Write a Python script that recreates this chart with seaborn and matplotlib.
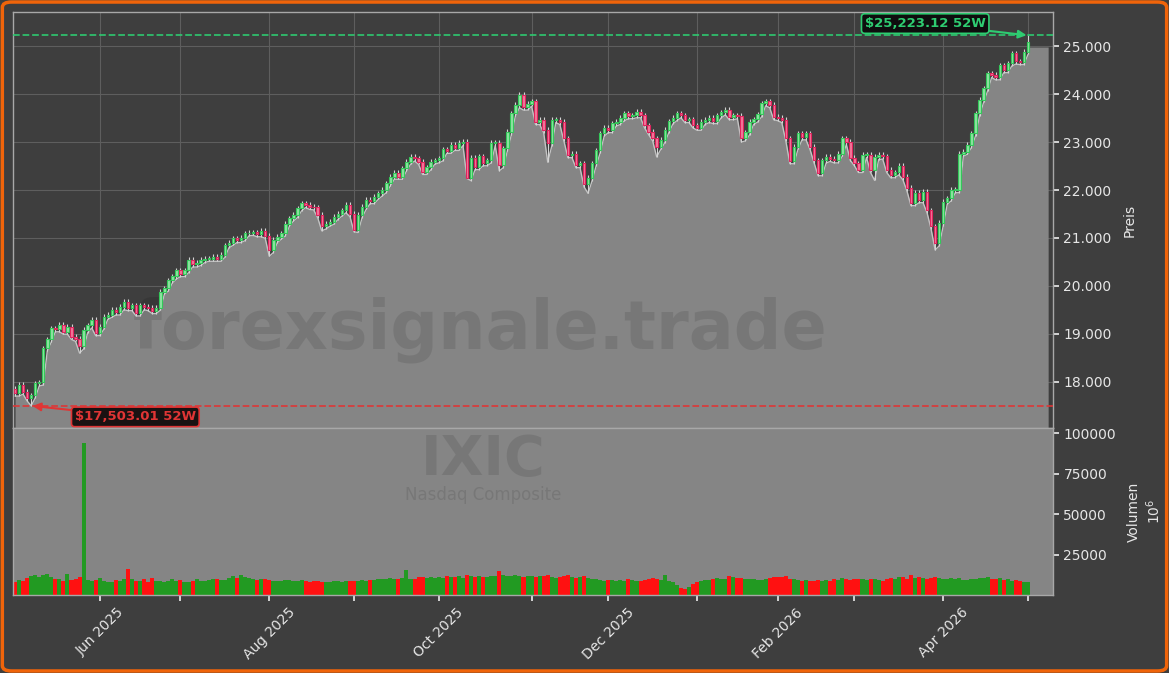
import numpy as np
import pandas as pd
import seaborn as sns
import matplotlib.pyplot as plt
from matplotlib.patches import FancyBboxPatch
from matplotlib.ticker import FuncFormatter, FixedLocator

# --- Data: IXIC daily closes ---
close_may25 = [17760, 17940, 17800, 17660, 17720, 17970, 17990, 18700, 18890, 19120, 19100,
               19190, 19050, 19150, 18940, 18900, 18740, 19080, 19180, 19290, 19020]
close_jun25 = [19150, 19360, 19400, 19500, 19450, 19560, 19670, 19540, 19600, 19430,
               19600, 19560, 19540, 19480, 19550, 19880, 19950, 20120, 20200, 20330]
close_jul25 = [20250, 20330, 20540, 20450, 20480, 20540, 20570, 20570, 20610, 20570, 20650,
               20850, 20900, 20990, 20960, 21000, 21100, 21110, 21120, 21080, 21150, 21050]
close_aug25 = [20750, 20960, 21030, 21100, 21300, 21410, 21480, 21620, 21720, 21690, 21650,
               21640, 21480, 21240, 21300, 21340, 21440, 21510, 21580, 21690, 21500]
close_sep25 = [21170, 21480, 21650, 21800, 21770, 21860, 21930, 22000, 22140, 22280, 22360,
               22280, 22450, 22590, 22690, 22660, 22590, 22380, 22470, 22590, 22620]
close_oct25 = [22660, 22850, 22820, 22940, 22880, 22980, 23010, 22250, 22670, 22480, 22700, 22560,
               22620, 22980, 22990, 22520, 22870, 23210, 23600, 23770, 23980, 23720, 23800]
close_nov25 = [23850, 23420, 23460, 23250, 22970, 23460, 23460, 23420, 23080, 22730,
               22760, 22520, 22560, 22120, 22250, 22560, 22830, 23180, 23290]
close_dec25 = [23250, 23390, 23420, 23500, 23600, 23540, 23560, 23630, 23560, 23350, 23210,
               23080, 22900, 23040, 23250, 23430, 23500, 23600, 23560, 23460, 23470, 23350]
close_jan26 = [23300, 23420, 23460, 23500, 23440, 23560, 23620, 23670, 23520, 23560,
               23540, 23080, 23200, 23420, 23470, 23580, 23810, 23850, 23770, 23520]
close_feb26 = [23500, 23460, 23080, 22600, 22900, 23180, 23100, 23180, 22900, 22620,
               22350, 22620, 22690, 22650, 22620, 22760, 23080, 23000, 22670]
close_mar26 = [22560, 22420, 22730, 22730, 22420, 22690, 22730, 22700, 22420, 22310, 22370,
               22500, 22270, 22040, 21730, 21940, 21790, 21960, 21580, 21240, 20890, 21310]
close_apr26 = [21760, 21830, 22000, 22000, 22760, 22800, 22940, 23180, 23600, 23880, 24120,
               24430, 24400, 24350, 24600, 24500, 24640, 24850, 24680, 24670, 24880]
close_may26 = [25090]
first_open = 17850

# volume in 10^6
vol_may25 = [8200, 9100, 8800, 10500, 11800, 12600, 10900, 12300, 13200, 11000, 10200,
             9600, 8900, 12800, 9400, 9800, 11200, 94000, 9200, 8400, 9000]
vol_jun25 = [10400, 8600, 8200, 7900, 9300, 8800, 10100, 16200, 9800, 8400,
             8700, 9600, 8200, 10800, 8900, 8400, 7800, 8600, 9900, 8800]
vol_jul25 = [9400, 8200, 7900, 8800, 9600, 8700, 8400, 9100, 10200, 9800, 9000,
             9500, 10800, 11600, 10400, 12200, 11300, 10600, 9800, 9400, 10100, 9700]
vol_aug25 = [9200, 8700, 8400, 8900, 9100, 9300, 8600, 8800, 9000, 8700, 8200,
             8500, 8900, 8100, 7800, 8300, 8600, 8800, 8200, 8700, 8400]
vol_sep25 = [8600, 8900, 9100, 8800, 9400, 9200, 9600, 9800, 10100, 10300, 9700,
             9900, 10400, 15200, 9600, 10200, 10900, 11200, 10600, 11400, 10800]
vol_oct25 = [11200, 10800, 11600, 10900, 11300, 11800, 10600, 12400, 11900, 11200, 11600, 10900,
             11400, 11500, 11800, 14600, 12100, 11600, 11900, 12200, 11700, 11400, 12000]
vol_nov25 = [11800, 11400, 11900, 11600, 12100, 11300, 10800, 11200, 11600, 12300,
             11000, 10400, 10900, 11700, 10800, 10200, 9800, 9300, 8900]
vol_dec25 = [9400, 9100, 8700, 9300, 8800, 9600, 9000, 8500, 8900, 9200, 9800,
             10400, 9700, 9100, 12600, 8800, 7900, 6200, 4300, 3800, 5200, 6900]
vol_jan26 = [7800, 8900, 9200, 9400, 9800, 10600, 9900, 9600, 11800, 11200,
             10400, 10800, 9600, 9900, 10200, 9400, 9100, 9800, 10600, 11200]
vol_feb26 = [11400, 10900, 11800, 10200, 9600, 9200, 8800, 9400, 8600, 8900,
             9300, 8700, 9100, 8400, 9800, 9200, 10600, 10200, 9400]
vol_mar26 = [9800, 9600, 10200, 9400, 9700, 10100, 9300, 8900, 9600, 10400, 9800,
             10900, 11400, 10200, 12300, 10800, 11200, 10600, 9800, 10400, 11100, 10700]
vol_apr26 = [10200, 9600, 10800, 9800, 10600, 9400, 9200, 10100, 9800, 10300, 10600,
             10900, 10200, 9700, 10400, 9100, 9600, 8900, 9300, 8600, 8200]
vol_may26 = [7900]

# wick extremes (trading-day index -> price)
low_marks = {4: 17503.01, 16: 18600, 63: 20620, 76: 21150, 84: 21130, 112: 22240,
             120: 22400, 132: 22580, 142: 21930, 159: 22690, 180: 23000, 192: 22550,
             199: 22300, 213: 22200, 228: 20750}
high_marks = {251: 25223.12}
hi_52w = 25223.12
lo_52w = 17503.01

nyse_holidays = ['2025-05-26', '2025-06-19', '2025-07-04', '2025-09-01', '2025-11-27',
                 '2025-12-25', '2026-01-01', '2026-01-19', '2026-02-16', '2026-04-03']

closes = (close_may25 + close_jun25 + close_jul25 + close_aug25 + close_sep25 + close_oct25 +
          close_nov25 + close_dec25 + close_jan26 + close_feb26 + close_mar26 + close_apr26 + close_may26)
volumes = (vol_may25 + vol_jun25 + vol_jul25 + vol_aug25 + vol_sep25 + vol_oct25 + vol_nov25 +
           vol_dec25 + vol_jan26 + vol_feb26 + vol_mar26 + vol_apr26 + vol_may26)

dates = pd.bdate_range('2025-05-01', '2026-05-01', freq='C', holidays=nyse_holidays)
n = min(len(dates), len(closes), len(volumes))

df = pd.DataFrame({'date': dates[:n], 'close': closes[:n], 'volume': volumes[:n]})
df['idx'] = np.arange(n)
df['open'] = df['close'].shift(1).fillna(first_open)
wick = 55
df['high'] = df[['open', 'close']].max(axis=1) + wick
df['low'] = df[['open', 'close']].min(axis=1) - wick
for k, v in low_marks.items():
    df.loc[k, 'low'] = v
for k, v in high_marks.items():
    df.loc[k, 'high'] = v
df['up'] = df['close'] >= df['open']

# --- Style ---
sns.set_theme(style='dark')
bg = '#3e3e3e'
txt = '#e6e6e6'
fill_gray = '#858585'
plt.rcParams['font.family'] = ['DejaVu Sans']

fig = plt.figure(figsize=(11.69, 6.73), dpi=100, facecolor=bg)
W, H = 1169, 673
ax = fig.add_axes([13 / W, 1 - 428 / H, 1040 / W, 416 / H])
axv = fig.add_axes([13 / W, 1 - 595 / H, 1040 / W, 167 / H], sharex=ax)

# --- Price panel ---
ax.set_facecolor(bg)
ymin, ymax = 17040, 25710
last_i = df['idx'].iloc[-1]
tail = df['close'].iloc[-1] - 2 * wick
x_fill = list(df['idx']) + [last_i + 0.3, last_i + 5]
y_fill = list(df['low']) + [tail, tail]
ax.fill_between(x_fill, y_fill, ymin, color=fill_gray, lw=0, zorder=1)
sns.lineplot(data=df, x='idx', y='low', color='#c4c4c4', lw=1.0, ax=ax, zorder=2)

ax.vlines(df['idx'], df['low'], df['high'], color='#d4d4d4', lw=0.8, zorder=3)
body_bottom = df[['open', 'close']].min(axis=1)
body_h = (df['close'] - df['open']).abs().clip(lower=12)
face = np.where(df['up'], '#8fe3a2', '#f2789b')
edge = np.where(df['up'], '#34c85a', '#e0245e')
ax.bar(df['idx'], body_h, bottom=body_bottom, width=0.6, color=face, edgecolor=edge,
       linewidth=0.8, zorder=4)

ax.axhline(hi_52w, color='#2ecc71', ls='--', lw=1.3, alpha=0.9, zorder=5)
ax.axhline(lo_52w, color='#e03535', ls='--', lw=1.3, alpha=0.9, zorder=5)

hi_i = int(df['high'].idxmax())
lo_i = int(df['low'].idxmin())
ax.annotate(f'${hi_52w:,.2f} 52W', xy=(hi_i, hi_52w), xytext=(-74, 8.5), textcoords='offset points',
            ha='center', va='center', color='#2ecc71', fontsize=9.5, fontweight='bold',
            bbox=dict(boxstyle='round,pad=0.25', fc='#0e0e0e', ec='#2ecc71', lw=1.2),
            arrowprops=dict(arrowstyle='-|>', color='#2ecc71', lw=1.5, mutation_scale=12,
                            shrinkA=0, shrinkB=1), zorder=6)
ax.annotate(f'${lo_52w:,.2f} 52W', xy=(lo_i, lo_52w), xytext=(75, -8), textcoords='offset points',
            ha='center', va='center', color='#e03535', fontsize=9.5, fontweight='bold',
            bbox=dict(boxstyle='round,pad=0.25', fc='#1a1212', ec='#e03535', lw=1.2),
            arrowprops=dict(arrowstyle='-|>', color='#e03535', lw=1.5, mutation_scale=12,
                            shrinkA=0, shrinkB=1), zorder=6)

ax.text(0.449, 0.236, 'forexsignale.trade', transform=ax.transAxes, ha='center', va='center',
        fontsize=48, fontweight='bold', color='black', alpha=0.1, zorder=1.5)

ax.set_ylim(ymin, ymax)
ax.set_xlim(-0.5, n - 1 + 6.2)
ax.yaxis.tick_right()
ax.yaxis.set_label_position('right')
ax.yaxis.set_major_formatter(FuncFormatter(lambda v, p: f'{v:,.0f}'.replace(',', '.')))
ax.set_yticks(np.arange(18000, 25001, 1000))
ax.set_ylabel('Preis', color=txt, fontsize=10, labelpad=8)
ax.tick_params(axis='y', colors=txt, labelsize=10, length=4, right=True)
ax.tick_params(axis='x', labelbottom=False, length=0)
ax.set_xlabel('')

# month starts as ticks, label every other month
month_first = df.groupby(df['date'].dt.to_period('M'))['idx'].min().iloc[1:]
tick_pos = list(month_first.values)
tick_lab = [d.strftime('%b %Y') if d.month % 2 == 0 else ''
            for d in df.loc[tick_pos, 'date']]
ax.xaxis.set_major_locator(FixedLocator(tick_pos))
ax.grid(True, color='#5e5e5e', lw=0.8, zorder=0)
ax.set_axisbelow(True)

for s in ax.spines.values():
    s.set_color('#a8a8a8')
    s.set_linewidth(1.0)

# --- Volume panel ---
axv.set_facecolor(fill_gray)
vcol = np.where(df['up'], '#229a22', '#ff1111')
axv.bar(df['idx'], df['volume'], width=1.0, color=vcol, linewidth=0, zorder=2)
axv.set_ylim(0, df['volume'].max() * 1.1)
axv.set_yticks([25000, 50000, 75000, 100000])
axv.yaxis.tick_right()
axv.yaxis.set_label_position('right')
axv.set_ylabel('Volumen\n$10^6$', color=txt, fontsize=10, labelpad=8)
axv.tick_params(axis='y', colors=txt, labelsize=10, length=4, right=True)
axv.set_xticks(tick_pos)
axv.set_xticklabels(tick_lab, rotation=45, ha='center', color=txt, fontsize=10)
axv.tick_params(axis='x', colors=txt, length=4, bottom=True)
axv.grid(False)
axv.set_xlabel('')
for s in axv.spines.values():
    s.set_color('#a8a8a8')
    s.set_linewidth(1.0)

axv.text(0.452, 0.81, 'IXIC', transform=axv.transAxes, ha='center', va='center',
         fontsize=40, fontweight='bold', color='black', alpha=0.1, zorder=1)
axv.text(0.452, 0.60, 'Nasdaq Composite', transform=axv.transAxes, ha='center', va='center',
         fontsize=12, color='black', alpha=0.1, zorder=1)

# orange rounded frame
fig.patches.append(FancyBboxPatch((0.002, 0.003), 0.996, 0.994, boxstyle='round,pad=0,rounding_size=0.008',
                                  transform=fig.transFigure, fill=False, ec='#f0640a', lw=2.5))

fig.savefig('out.png', dpi=100, facecolor=bg)
